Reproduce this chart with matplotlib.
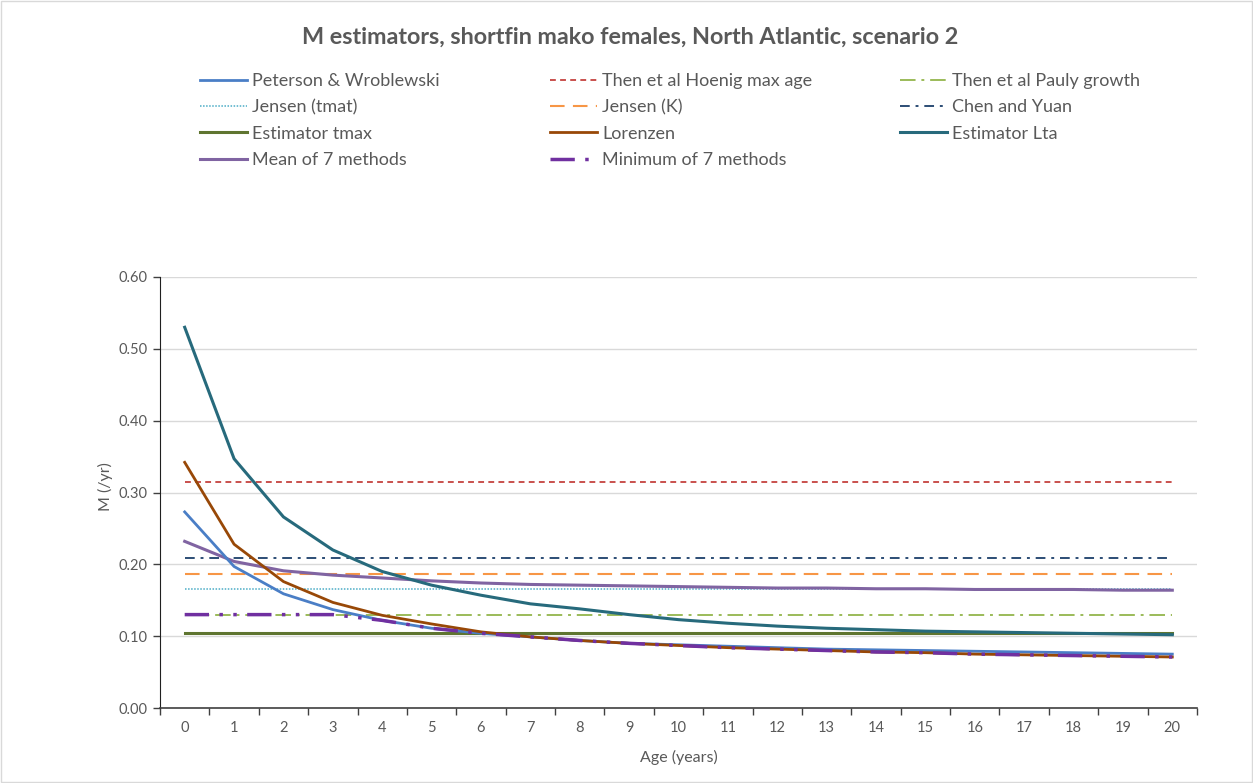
import numpy as np
import matplotlib.pyplot as plt

plt.rcParams['font.family'] = ['Lato', 'DejaVu Sans']

# ages and estimator values
ages = list(range(21))

peterson = [0.273, 0.197, 0.159, 0.137, 0.122, 0.111, 0.104, 0.099, 0.094, 0.090, 0.088,
            0.086, 0.084, 0.082, 0.081, 0.080, 0.079, 0.078, 0.077, 0.076, 0.075]
lorenzen = [0.342, 0.228, 0.176, 0.147, 0.129, 0.117, 0.106, 0.099, 0.094, 0.090, 0.087,
            0.084, 0.082, 0.080, 0.078, 0.077, 0.075, 0.074, 0.073, 0.072, 0.071]
lta = [0.530, 0.347, 0.266, 0.220, 0.190, 0.171, 0.157, 0.145, 0.138, 0.130, 0.123,
       0.118, 0.114, 0.111, 0.109, 0.107, 0.106, 0.105, 0.104, 0.103, 0.102]
mean7 = [0.232, 0.204, 0.191, 0.185, 0.181, 0.177, 0.174, 0.172, 0.171, 0.170, 0.169,
         0.168, 0.167, 0.167, 0.166, 0.166, 0.165, 0.165, 0.165, 0.164, 0.164]
min7 = [0.130, 0.130, 0.130, 0.130, 0.122, 0.111, 0.104, 0.099, 0.094, 0.090, 0.087,
        0.084, 0.082, 0.080, 0.078, 0.077, 0.075, 0.074, 0.073, 0.072, 0.071]

hoenig = 0.315
pauly = 0.130
jensen_tmat = 0.165
jensen_k = 0.186
chen_yuan = 0.209
est_tmax = 0.105

fig = plt.figure(figsize=(12.53, 7.83), dpi=100)
ax = fig.add_axes([160 / 1253, 1 - 708 / 783, (1197 - 160) / 1253, (708 - 277) / 783])

n = len(ages)
x = np.arange(n)
const = lambda v: [v] * n

lines = {}
lines['Peterson & Wroblewski'] = ax.plot(x, peterson, color='#4A7EC6', lw=2, zorder=5)[0]
lines['Then et al Hoenig max age'] = ax.plot(x, const(hoenig), color='#C9504D', lw=1.4,
                                             dashes=(3, 2.2), zorder=3)[0]
lines['Then et al Pauly growth'] = ax.plot(x, const(pauly), color='#9BBB59', lw=1.4,
                                           dashes=(8, 3, 1.5, 3), zorder=3)[0]
lines['Jensen (tmat)'] = ax.plot(x, const(jensen_tmat), color='#4BACC6', lw=1.1,
                                 dashes=(1, 1), zorder=3)[0]
lines['Jensen (K)'] = ax.plot(x, const(jensen_k), color='#F79646', lw=1.5,
                              dashes=(7, 4), zorder=3)[0]
lines['Chen and Yuan'] = ax.plot(x, const(chen_yuan), color='#2C4D75', lw=1.4,
                                 dashes=(5, 3, 1.5, 3), zorder=3)[0]
lines['Estimator tmax'] = ax.plot(x, const(est_tmax), color='#5F7530', lw=2.2, zorder=4)[0]
lines['Lorenzen'] = ax.plot(x, lorenzen, color='#984807', lw=2, zorder=5)[0]
lines['Estimator Lta'] = ax.plot(x, lta, color='#276A7C', lw=2.2, zorder=5)[0]
lines['Mean of 7 methods'] = ax.plot(x, mean7, color='#8064A2', lw=2.2, zorder=4)[0]
lines['Minimum of 7 methods'] = ax.plot(x, min7, color='#7030A0', lw=2.5,
                                        dashes=(7, 3, 1, 3, 1, 3), zorder=6)[0]

ax.set_xlim(-0.5, n - 0.5)
ax.set_ylim(0, 0.6)
ax.set_yticks(np.arange(0, 0.61, 0.1))
ax.set_yticklabels([f'{v:.2f}' for v in np.arange(0, 0.61, 0.1)])
ax.set_xticks(x)
ax.set_xticklabels([str(a) for a in ages])
ax.set_xticks(np.arange(-0.5, n, 1), minor=True)
ax.tick_params(axis='x', which='major', length=0, pad=9, labelsize=10.5, labelcolor='#595959')
ax.tick_params(axis='x', which='minor', length=5, width=1, color='#404040')
ax.tick_params(axis='y', length=5, width=1, color='#404040', labelsize=10.5,
               labelcolor='#595959', pad=4)
ax.grid(axis='y', color='#D9D9D9', lw=1)
ax.set_axisbelow(True)
for s in ['top', 'right']:
    ax.spines[s].set_visible(False)
ax.spines['left'].set_color('#202020')
ax.spines['bottom'].set_color('#404040')
ax.spines['bottom'].set_linewidth(1.2)

ax.set_xlabel('Age (years)', fontsize=11.5, color='#595959', labelpad=11)
ax.set_ylabel('M (/yr)', fontsize=11.5, color='#595959')
ax.yaxis.set_label_coords(-47 / 1037, 0.513)

fig.text(0.503, 0.952, 'M estimators, shortfin mako females, North Atlantic, scenario 2',
         ha='center', va='center', fontsize=16.8, fontweight='bold', color='#595959')

# legend in three columns, filled row by row like the original
cols = [
    ['Peterson & Wroblewski', 'Jensen (tmat)', 'Estimator tmax', 'Mean of 7 methods'],
    ['Then et al Hoenig max age', 'Jensen (K)', 'Lorenzen', 'Minimum of 7 methods'],
    ['Then et al Pauly growth', 'Chen and Yuan', 'Estimator Lta'],
]
col_x = [200, 550, 900]
for names, cx in zip(cols, col_x):
    leg = fig.legend([lines[k] for k in names], names, loc='upper left',
                     bbox_to_anchor=(cx / 1253, 1 - 73 / 783), frameon=False,
                     fontsize=13, handlelength=2.6, handletextpad=0.3, labelspacing=0.57,
                     borderaxespad=0, borderpad=0)
    for t in leg.get_texts():
        t.set_color('#595959')

# light chart border
fig.patches.append(plt.Rectangle((0.001, 0.001), 0.998, 0.998, transform=fig.transFigure,
                                 fill=False, edgecolor='#D9D9D9', lw=1))

fig.savefig('out.png', dpi=100)
